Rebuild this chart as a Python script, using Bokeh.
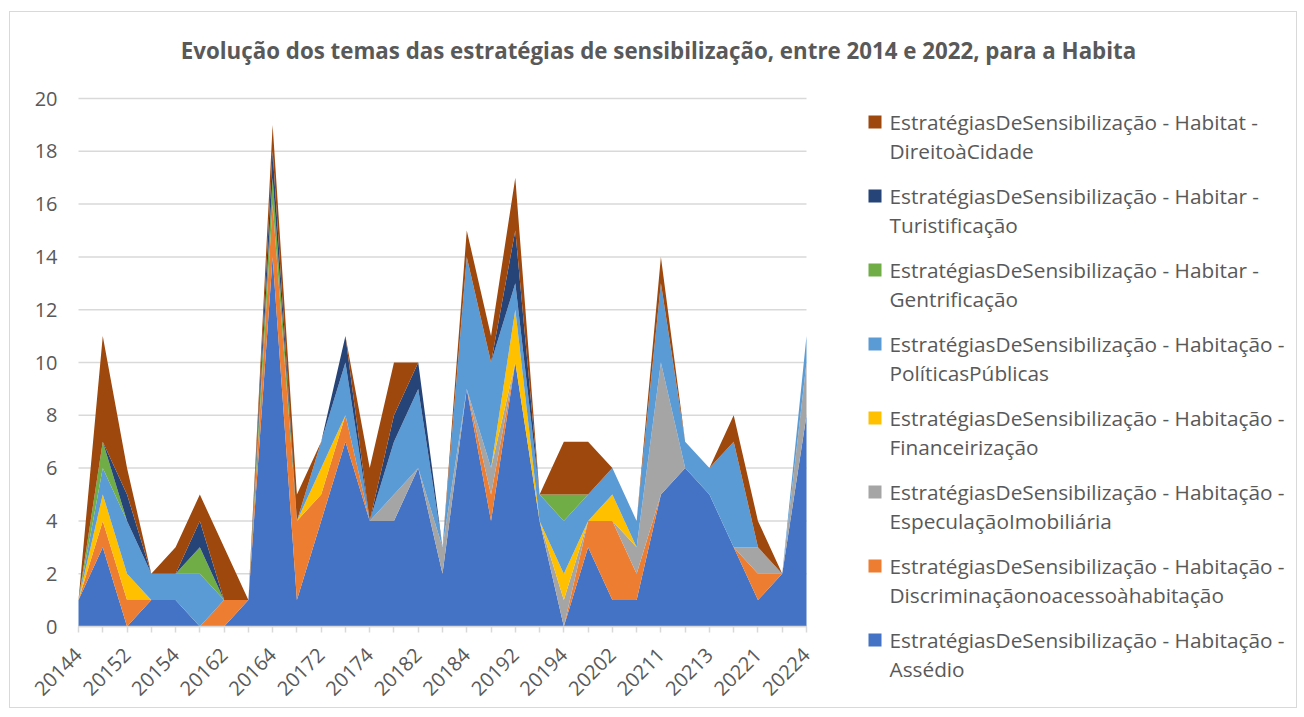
import numpy as np
from bokeh.plotting import figure
from bokeh.models import Range1d, FixedTicker, ColumnDataSource
from bokeh.core.properties import value
from bokeh.embed import file_html
from bokeh.resources import INLINE

periods = ["20144", "20151", "20152", "20153", "20154", "20161", "20162", "20163",
           "20164", "20171", "20172", "20173", "20174", "20181", "20182", "20183",
           "20184", "20191", "20192", "20193", "20194", "20201", "20202", "20203",
           "20211", "20212", "20213", "20214", "20221", "20222", "20224"]

assedio =          [1, 3, 0, 1, 1, 0, 0, 1, 14, 1, 4, 7, 4, 4, 6, 2, 9, 4, 10, 4, 0, 3, 1, 1, 5, 6, 5, 3, 1, 2, 8]
discriminacao =    [0, 1, 1, 0, 0, 0, 1, 0, 2, 3, 1, 1, 0, 0, 0, 0, 0, 1, 0, 0, 0, 1, 3, 1, 0, 0, 0, 0, 1, 0, 0]
especulacao =      [0, 0, 0, 0, 0, 0, 0, 0, 0, 0, 0, 0, 0, 1, 0, 1, 0, 1, 0, 0, 1, 0, 0, 1, 5, 0, 0, 0, 1, 0, 2]
financeirizacao =  [0, 1, 1, 0, 0, 0, 0, 0, 0, 0, 1, 0, 0, 0, 0, 0, 0, 0, 2, 0, 1, 0, 1, 0, 0, 0, 0, 0, 0, 0, 0]
politicas =        [0, 1, 2, 1, 1, 2, 0, 0, 0, 0, 1, 2, 0, 2, 3, 0, 5, 4, 1, 1, 2, 1, 1, 1, 3, 1, 1, 4, 0, 0, 1]
gentrificacao =    [0, 1, 0, 0, 0, 1, 0, 0, 1, 0, 0, 0, 0, 0, 0, 0, 0, 0, 0, 0, 1, 0, 0, 0, 0, 0, 0, 0, 0, 0, 0]
turistificacao =   [0, 0, 1, 0, 0, 1, 0, 0, 1, 0, 0, 1, 0, 1, 1, 0, 0, 0, 2, 0, 0, 0, 0, 0, 0, 0, 0, 0, 0, 0, 0]
direito_cidade =   [0, 4, 1, 0, 1, 1, 2, 0, 1, 1, 0, 0, 2, 2, 0, 0, 1, 1, 2, 0, 2, 2, 0, 0, 1, 0, 0, 1, 1, 0, 0]

legend_line1 = [
    "EstratégiasDeSensibilização - Habitação -",
    "EstratégiasDeSensibilização - Habitação -",
    "EstratégiasDeSensibilização - Habitação -",
    "EstratégiasDeSensibilização - Habitação -",
    "EstratégiasDeSensibilização - Habitação -",
    "EstratégiasDeSensibilização - Habitar -",
    "EstratégiasDeSensibilização - Habitar -",
    "EstratégiasDeSensibilização - Habitat -",
]
legend_line2 = [
    "Assédio",
    "Discriminaçãonoacessoàhabitação",
    "EspeculaçãoImobiliária",
    "Financeirização",
    "PolíticasPúblicas",
    "Gentrificação",
    "Turistificação",
    "DireitoàCidade",
]
colors = ["#4472C4", "#ED7D31", "#A5A5A5", "#FFC000", "#5B9BD5", "#70AD47", "#264478", "#9E480E"]
y_ticks = list(range(0, 21, 2))
title_text = "Evolução dos temas das estratégias de sensibilização, entre 2014 e 2022, para a Habita"

keys = ["assedio", "discriminacao", "especulacao", "financeirizacao",
        "politicas", "gentrificacao", "turistificacao", "direito_cidade"]
xs = list(range(len(periods)))
source = ColumnDataSource(dict(
    x=xs, assedio=assedio, discriminacao=discriminacao, especulacao=especulacao,
    financeirizacao=financeirizacao, politicas=politicas, gentrificacao=gentrificacao,
    turistificacao=turistificacao, direito_cidade=direito_cidade))

FONT = "Open Sans"
TXT = "#595959"

# geometry (pixels in figure coordinates)
W, H = 1288, 697
BL, BR, BT, BB = 3, 2, 5, 3             # borders around the frame
ZERO_FROM_LEFT = 65                     # pixel distance from frame left to first category
ZERO_FROM_TOP = 609                     # pixel distance from frame top to value 0
DATA_W_PX = 728                         # width of the 0..30 category span
DATA_H_PX = 528                         # height of the 0..20 value span
frame_w = W - BL - BR
frame_h = H - BT - BB
nx = len(periods) - 1
px_x = nx / DATA_W_PX                   # data units per pixel
px_y = 20 / DATA_H_PX
x_min = -ZERO_FROM_LEFT * px_x
x_max = (frame_w - ZERO_FROM_LEFT) * px_x
y_max = ZERO_FROM_TOP * px_y
y_min = -(frame_h - ZERO_FROM_TOP) * px_y

p = figure(width=W, height=H, output_backend="svg", toolbar_location=None,
           x_range=Range1d(x_min, x_max), y_range=Range1d(y_min, y_max),
           min_border_left=BL, min_border_right=BR, min_border_top=BT,
           min_border_bottom=BB)
p.outline_line_color = None
p.styles = {"margin-left": "9px", "margin-top": "11px", "border": "1px solid #d9d9d9"}
p.xgrid.visible = False
p.ygrid.visible = False

# gridlines limited to the data span
p.segment(x0=[0] * len(y_ticks), x1=[nx] * len(y_ticks), y0=y_ticks, y1=y_ticks,
          line_color="#d9d9d9", line_width=1.5)

renderers = p.varea_stack(stackers=keys, x="x", fill_color=colors, source=source)

p.yaxis.fixed_location = 0
p.yaxis.bounds = (0, 20)
p.yaxis.ticker = FixedTicker(ticks=y_ticks)
p.yaxis.axis_line_color = None
p.yaxis.major_tick_line_color = None
p.yaxis.minor_tick_line_color = None
p.yaxis.major_label_text_font = FONT
p.yaxis.major_label_text_font_size = "20px"
p.yaxis.major_label_text_color = TXT
p.yaxis.major_label_standoff = 15

p.xaxis.fixed_location = 0
p.xaxis.bounds = (0, nx)
p.xaxis.ticker = FixedTicker(ticks=xs)
p.xaxis.major_label_overrides = {i: (periods[i] if i % 2 == 0 else "") for i in xs}
p.xaxis.major_label_orientation = np.pi / 4
p.xaxis.axis_line_color = "#d9d9d9"
p.xaxis.axis_line_width = 1.5
p.xaxis.major_tick_line_color = "#d9d9d9"
p.xaxis.major_tick_line_width = 1.5
p.xaxis.major_tick_in = 0
p.xaxis.major_tick_out = 6
p.xaxis.minor_tick_line_color = None
p.xaxis.major_label_text_font = FONT
p.xaxis.major_label_text_font_size = "20px"
p.xaxis.major_label_text_color = TXT
p.xaxis.major_label_standoff = 19

# title (inside the extended frame)
p.text(x=[580 * px_x], y=[20 + 48 * px_y], text=[title_text], text_align="center",
       text_baseline="middle", text_font=value(FONT), text_font_style="bold",
       text_font_size="22.3px", text_color=TXT)

# legend (top series first)
order = list(reversed(range(len(keys))))
sq_x = 796.5 * px_x
tx_x = 811 * px_x
first_y = 20 - 23.5 * px_y
step = 74 * px_y
line_gap = 29 * px_y
ly = [first_y - k * step for k in range(len(order))]
p.scatter(x=[sq_x] * len(order), y=ly, marker="square", size=13,
          fill_color=[colors[i] for i in order], line_color=None)
p.text(x=[tx_x] * len(order), y=ly, text=[legend_line1[i] for i in order],
       text_baseline="middle", text_font=value(FONT), text_font_size="20.8px",
       text_color=TXT)
p.text(x=[tx_x] * len(order), y=[v - line_gap for v in ly], text=[legend_line2[i] for i in order],
       text_baseline="middle", text_font=value(FONT), text_font_size="20.8px",
       text_color=TXT)

open("out.html", "w").write(file_html(p, INLINE))
